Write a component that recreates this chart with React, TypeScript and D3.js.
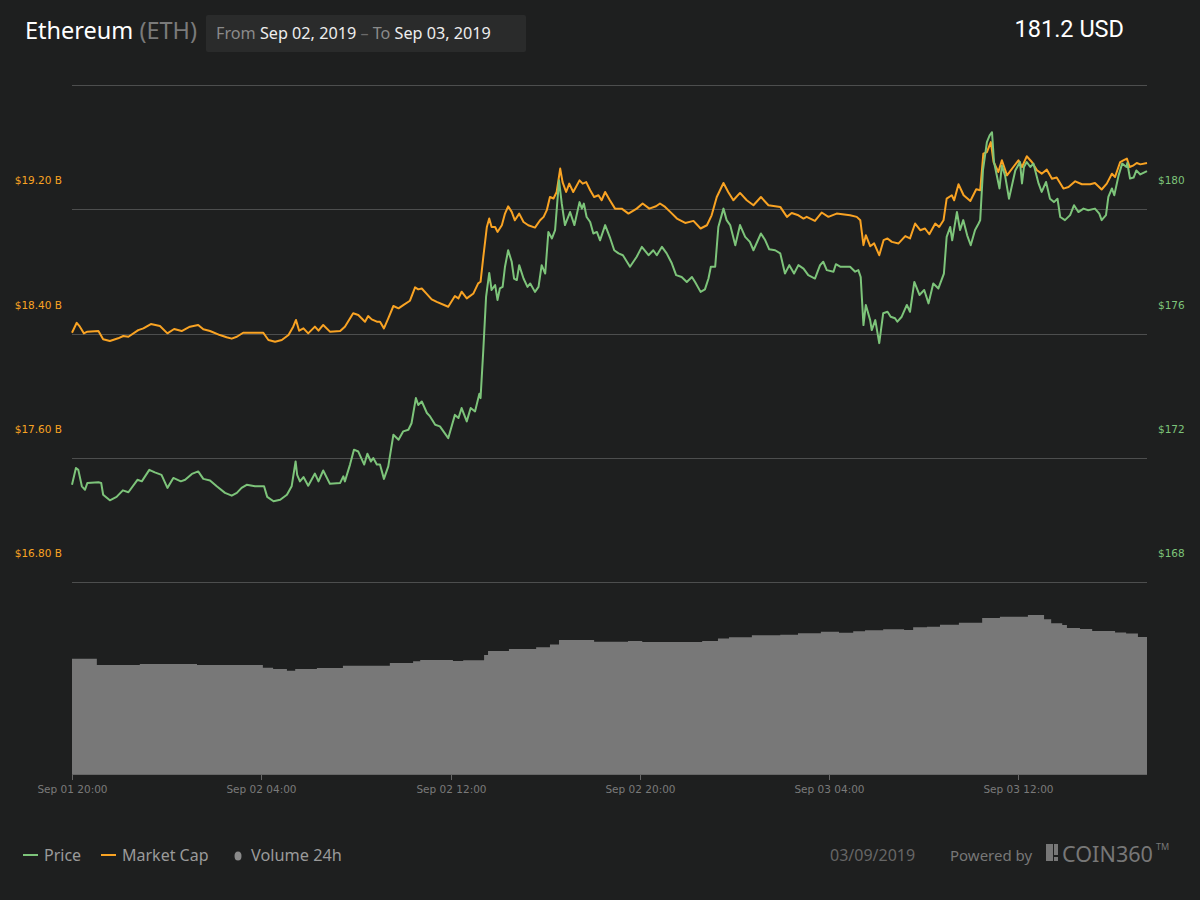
import React from "react";
import * as d3 from "d3";

// ---- data (minutes after Sep 01 2019 20:00 UTC) ----
const priceMinutes = [0,10,16,25,33,39,67,74,79,96,113,129,143,166,177,196,210,227,242,257,276,287,304,320,333,350,367,388,405,418,430,443,464,487,495,511,528,545,557,567,571,578,587,599,616,625,637,654,680,688,692,705,715,726,741,749,758,764,773,781,791,802,815,828,840,853,861,872,878,887,900,908,921,933,954,971,980,988,1001,1011,1022,1033,1036,1043,1050,1058,1064,1073,1079,1085,1092,1098,1106,1115,1121,1128,1134,1145,1155,1162,1174,1183,1191,1200,1208,1217,1225,1235,1242,1250,1263,1274,1287,1293,1298,1305,1314,1322,1331,1339,1352,1365,1375,1386,1397,1415,1432,1445,1462,1474,1483,1496,1508,1521,1532,1546,1559,1572,1580,1594,1605,1614,1620,1631,1639,1652,1660,1669,1682,1694,1707,1719,1728,1747,1758,1768,1783,1796,1808,1819,1831,1842,1855,1867,1884,1897,1905,1914,1931,1937,1948,1973,1986,1994,2000,2007,2013,2024,2028,2037,2047,2057,2068,2076,2087,2093,2104,2117,2125,2136,2149,2161,2172,2184,2197,2211,2218,2227,2232,2244,2252,2260,2270,2279,2290,2299,2303,2310,2320,2327,2333,2338,2352,2358,2366,2376,2392,2404,2409,2414,2421,2430,2438,2451,2459,2470,2480,2490,2499,2506,2518,2531,2541,2552,2565,2577,2594,2605,2611,2622,2628,2637,2643,2654,2663,2674,2676,2683,2692,2699,2709,2726];
const priceValues = [171.13,171.67,171.61,171.08,170.97,171.19,171.21,171.19,170.81,170.63,170.74,170.95,170.89,171.29,171.24,171.61,171.53,171.45,171.03,171.35,171.24,171.29,171.48,171.56,171.32,171.27,171.08,170.87,170.78,170.87,171.03,171.13,171.08,171.08,170.74,170.60,170.65,170.81,171.08,171.88,171.45,171.24,171.38,171.10,171.49,171.24,171.59,171.16,171.19,171.40,171.24,171.78,172.26,172.20,171.78,172.13,171.88,171.99,171.78,171.78,171.32,171.72,172.74,172.58,172.85,172.90,173.11,173.92,173.70,173.81,173.44,173.33,173.06,173.01,172.63,173.38,173.28,173.60,173.17,173.60,173.49,174.06,173.92,175.47,177.18,177.95,177.40,177.56,177.08,177.45,177.50,178.15,178.68,178.31,177.77,177.72,178.20,177.77,177.50,177.61,177.34,177.50,178.20,177.93,179.27,179.06,179.33,180.93,180.18,179.49,179.91,179.49,180.23,180.02,180.18,179.75,179.59,179.22,179.27,179.00,179.49,179.06,178.68,178.58,178.52,178.15,178.47,178.79,178.52,178.68,178.52,178.79,178.58,178.26,177.88,177.82,177.66,177.82,177.66,177.34,177.42,177.77,178.15,178.15,179.43,180.02,179.65,179.49,178.84,179.49,179.11,178.95,178.68,179.22,179.00,178.71,178.68,178.58,177.93,178.20,177.93,178.20,178.09,177.88,177.77,178.20,178.31,178.04,177.99,178.23,178.15,178.15,177.99,178.04,177.82,176.27,176.92,176.43,176.11,176.43,175.69,176.65,176.70,176.54,176.49,176.38,176.54,176.92,176.70,177.66,177.24,177.40,176.97,177.61,177.45,177.93,179.11,179.43,179.00,179.91,179.33,179.65,179.16,178.84,179.33,179.54,179.65,181.25,182.16,182.38,182.48,181.52,180.67,181.41,181.09,180.34,181.25,181.52,180.83,181.36,181.52,181.36,181.47,180.83,180.56,180.88,180.34,180.23,180.34,179.75,179.65,179.81,180.13,179.91,180.02,179.97,180.02,179.86,179.65,179.81,180.40,180.67,180.45,181.09,181.47,181.36,181.49,180.99,181.02,181.25,181.12,181.23];

const mcapMinutes = [0,12,20,30,39,67,79,96,117,130,143,168,181,200,223,242,259,278,299,320,333,350,375,392,405,418,434,456,485,498,515,532,549,561,568,576,587,599,616,625,637,654,680,692,713,726,743,751,760,773,781,791,802,815,828,840,857,870,878,887,900,912,925,954,971,980,988,1001,1018,1030,1036,1043,1052,1058,1064,1073,1079,1090,1098,1106,1115,1123,1134,1145,1157,1174,1187,1196,1204,1212,1221,1229,1238,1244,1253,1261,1271,1287,1295,1304,1314,1324,1335,1343,1352,1364,1377,1394,1411,1432,1447,1464,1481,1491,1504,1517,1534,1555,1576,1594,1610,1622,1635,1652,1664,1677,1694,1711,1728,1747,1766,1796,1813,1825,1842,1855,1863,1884,1901,1918,1939,1973,1990,1999,2007,2013,2024,2034,2047,2058,2068,2079,2096,2113,2125,2138,2151,2163,2174,2189,2199,2210,2218,2231,2237,2248,2261,2278,2293,2303,2311,2320,2330,2337,2349,2358,2371,2387,2400,2409,2421,2434,2447,2459,2472,2485,2497,2514,2527,2544,2561,2582,2594,2611,2624,2637,2645,2658,2666,2675,2682,2692,2700,2709,2726];
const mcapValues = [18.405,18.469,18.444,18.401,18.412,18.416,18.363,18.352,18.369,18.384,18.379,18.422,18.433,18.461,18.448,18.401,18.429,18.416,18.444,18.455,18.427,18.416,18.390,18.376,18.367,18.379,18.405,18.405,18.405,18.358,18.347,18.358,18.390,18.444,18.487,18.418,18.433,18.401,18.444,18.418,18.455,18.412,18.416,18.444,18.530,18.519,18.476,18.512,18.491,18.476,18.476,18.433,18.498,18.577,18.562,18.583,18.611,18.697,18.684,18.690,18.654,18.620,18.604,18.572,18.641,18.626,18.669,18.626,18.658,18.723,18.733,18.893,19.086,19.140,19.086,19.086,19.054,19.097,19.172,19.219,19.183,19.129,19.172,19.118,19.097,19.082,19.129,19.151,19.194,19.279,19.269,19.311,19.462,19.375,19.311,19.365,19.311,19.386,19.365,19.375,19.322,19.279,19.290,19.258,19.311,19.258,19.204,19.204,19.172,19.204,19.237,19.204,19.219,19.237,19.215,19.183,19.140,19.112,19.125,19.076,19.097,19.161,19.279,19.369,19.311,19.258,19.305,19.258,19.226,19.279,19.226,19.215,19.151,19.176,19.161,19.140,19.151,19.125,19.179,19.151,19.172,19.161,19.151,19.129,18.969,19.033,18.962,18.980,18.904,19.001,19.012,18.990,18.980,19.027,19.012,19.108,19.065,19.076,19.039,19.108,19.086,19.129,19.269,19.290,19.258,19.361,19.290,19.253,19.329,19.322,19.558,19.568,19.632,19.504,19.440,19.515,19.418,19.472,19.515,19.472,19.541,19.504,19.451,19.429,19.455,19.397,19.404,19.333,19.343,19.380,19.361,19.361,19.369,19.327,19.365,19.429,19.408,19.504,19.515,19.526,19.472,19.483,19.498,19.489,19.498];

const volumeMinutes = [0,63,172,317,484,510,545,566,621,687,806,865,883,966,992,1045,1055,1108,1177,1212,1235,1324,1410,1446,1598,1638,1666,1724,1796,1841,1899,1945,1981,2011,2057,2110,2133,2168,2201,2249,2308,2353,2424,2465,2483,2511,2523,2556,2587,2645,2673,2703,2726];
const volumeValues = [4.80,4.54,4.58,4.54,4.43,4.38,4.30,4.38,4.42,4.51,4.63,4.70,4.75,4.71,4.74,4.96,5.13,5.21,5.28,5.40,5.58,5.51,5.54,5.50,5.54,5.65,5.70,5.78,5.80,5.86,5.93,5.89,5.95,5.99,6.03,6.00,6.11,6.14,6.22,6.30,6.50,6.55,6.63,6.45,6.28,6.21,6.08,6.04,5.96,5.90,5.85,5.71,5.71];

const priceGrid = [168, 172, 176, 180, 184];
const priceTickLabels = [168, 172, 176, 180];
const mcapTickLabels = [16.8, 17.6, 18.4, 19.2];
const xTickHours = [0, 8, 16, 24, 32, 40];

const coinName = "Ethereum";
const coinSymbol = "(ETH)";
const fromDate = "Sep 02, 2019";
const toDate = "Sep 03, 2019";
const lastPrice = "181.2 USD";
const footerDate = "03/09/2019";

const START = Date.UTC(2019, 8, 1, 20, 0);
const toDate_ = (m: number) => new Date(START + m * 60000);

const priceData = priceMinutes.map((m, i) => ({ t: toDate_(m), v: priceValues[i] }));
const mcapData = mcapMinutes.map((m, i) => ({ t: toDate_(m), v: mcapValues[i] }));
const volumeData = volumeMinutes.map((m, i) => ({ t: toDate_(m), v: volumeValues[i] }));

const BG = "#1e1f1f";
const GREEN = "#7dc47a";
const ORANGE = "#f9a323";
const GRID = "#4d4e4e";

export default function App() {
  const W = 1200, H = 900;
  const x = d3.scaleUtc().domain([toDate_(0), toDate_(priceMinutes[priceMinutes.length - 1])]).range([72, 1147]);
  const yP = d3.scaleLinear().domain([168, 184]).range([582, 85]);
  const yM = d3.scaleLinear().domain([16.8, 20.0]).range([582, 85]);
  const yV = d3.scaleLinear().domain([0, 8]).range([774, 582]);

  const priceLine = d3.line<{ t: Date; v: number }>().x(d => x(d.t)).y(d => yP(d.v)).curve(d3.curveLinear);
  const mcapLine = d3.line<{ t: Date; v: number }>().x(d => x(d.t)).y(d => yM(d.v)).curve(d3.curveLinear);
  const volArea = d3.area<{ t: Date; v: number }>().x(d => x(d.t)).y0(yV(0)).y1(d => yV(d.v)).curve(d3.curveStepAfter);
  const fmt = d3.utcFormat("%b %d %H:%M");
  const labelOffset = 29;

  return (
    <svg width={W} height={H} style={{ display: "block", position: "absolute", left: 0, top: 0, background: BG }}>
      <rect x={0} y={0} width={W} height={H} fill={BG} />
      {/* header */}
      <text x={25} y={39} fontFamily="Noto Sans" fontSize={23.5} fill="#ffffff">
        {coinName} <tspan fill="#7a7a7a">{coinSymbol}</tspan>
      </text>
      <rect x={206} y={15} width={320} height={37} fill="#2a2b2b" rx={2} />
      <text x={216} y={39} fontFamily="Noto Sans" fontSize={16.2} fill="#8a8a8a">
        From <tspan fill="#eeeeee">{fromDate}</tspan> <tspan fill="#6a6a6a">–</tspan> To <tspan fill="#eeeeee">{toDate}</tspan>
      </text>
      <text x={1124} y={37} textAnchor="end" fontFamily="Roboto" fontSize={23.5} fill="#ffffff">{lastPrice}</text>

      {/* grid */}
      {priceGrid.map(p => (
        <line key={p} x1={72} x2={1147} y1={Math.round(yP(p)) + 0.5} y2={Math.round(yP(p)) + 0.5} stroke={GRID} strokeWidth={1} />
      ))}
      {/* y labels */}
      {mcapTickLabels.map(m => (
        <text key={m} x={62} y={yM(m) - labelOffset + 4} textAnchor="end" fontFamily="DejaVu Sans" fontSize={10.5} fill={ORANGE}>
          {"$" + m.toFixed(2) + " B"}
        </text>
      ))}
      {priceTickLabels.map(p => (
        <text key={p} x={1158} y={yP(p) - labelOffset + 4} textAnchor="start" fontFamily="DejaVu Sans" fontSize={10.5} fill={GREEN}>
          {"$" + p}
        </text>
      ))}

      {/* volume */}
      <path d={volArea(volumeData) || ""} fill="#787878" />
      <line x1={72} x2={1147} y1={774.5} y2={774.5} stroke="#666" strokeWidth={1} />
      {xTickHours.map(h => {
        const t = toDate_(h * 60);
        const xx = Math.round(x(t)) + 0.5;
        return (
          <g key={h}>
            <line x1={xx} x2={xx} y1={774} y2={780} stroke="#666" />
            <text x={xx} y={793} textAnchor="middle" fontFamily="DejaVu Sans" fontSize={10.5} fill="#7a7a7a">{fmt(t)}</text>
          </g>
        );
      })}

      {/* lines */}
      <path d={mcapLine(mcapData) || ""} fill="none" stroke={ORANGE} strokeWidth={2} strokeLinejoin="round" />
      <path d={priceLine(priceData) || ""} fill="none" stroke={GREEN} strokeWidth={2} strokeLinejoin="round" />

      {/* legend */}
      <line x1={23} x2={38} y1={855} y2={855} stroke={GREEN} strokeWidth={2} />
      <text x={44} y={861} fontFamily="Noto Sans" fontSize={16} fill="#9a9a9a">Price</text>
      <line x1={101} x2={116} y1={855} y2={855} stroke={ORANGE} strokeWidth={2} />
      <text x={122} y={861} fontFamily="Noto Sans" fontSize={16} fill="#9a9a9a">Market Cap</text>
      <ellipse cx={238} cy={856} rx={3.5} ry={4.5} fill="#8a8a8a" />
      <text x={251} y={861} fontFamily="Noto Sans" fontSize={16.3} fill="#9a9a9a">Volume 24h</text>

      <text x={830} y={861} fontFamily="Noto Sans" fontSize={16} fill="#666">{footerDate}</text>
      <text x={950} y={861} fontFamily="Noto Sans" fontSize={15} fill="#777">Powered by</text>
      <rect x={1046} y={844} width={7} height={17} fill="#777" />
      <rect x={1054} y={844} width={4} height={11} fill="#777" />
      <rect x={1054} y={857} width={4} height={4} fill="#777" />
      <text x={1062} y={862} fontFamily="Noto Sans" fontSize={21} fill="#777" textLength={91} lengthAdjust="spacingAndGlyphs">COIN360</text>
      <text x={1156} y={850} fontFamily="Noto Sans" fontSize={9} fill="#777">TM</text>
    </svg>
  );
}
